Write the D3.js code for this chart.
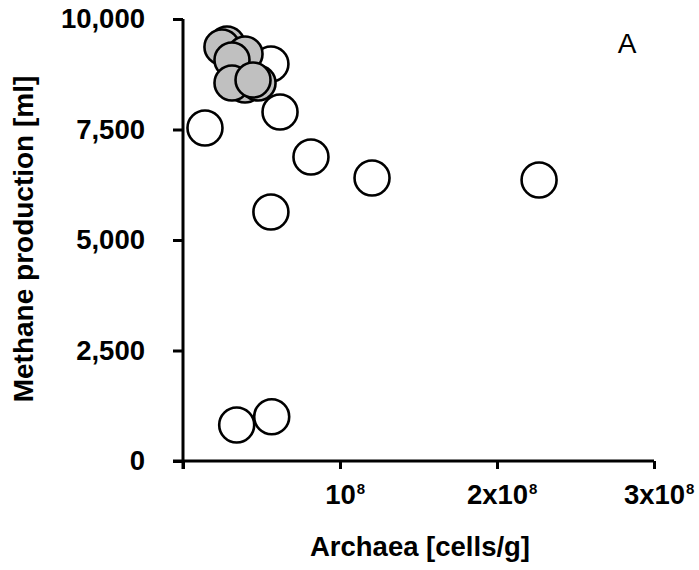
<!DOCTYPE html>
<html lang="en">
    <head>
        <meta charset="utf-8">
        <script src="https://d3js.org/d3.v7.min.js"></script>
        <title>Methane vs Archaea</title>
        <style>
            body { margin: 0; background: #fff; }
            text { font-family: "Liberation Sans", Arial, Helvetica, sans-serif; }
        </style>
    </head>
    <body>
        <div id="plot-div"></div>
        <script>
            const width = 699
            const height = 570

            // open circles (cells/g, ml)
            const openX = [1.4e7, 6.18e7, 8.15e7, 1.204e8, 2.268e8, 5.6e7, 5.6e7, 3.42e7, 5.65e7]
            const openY = [7534, 7896, 6878, 6403, 6357, 5633, 8982, 814, 1002]

            // grey circles, back to front
            const greyX = [2.8e7, 2.48e7, 3.95e7, 3.12e7, 3.95e7, 4.78e7, 3.12e7, 4.46e7]
            const greyY = [9434, 9367, 9208, 9072, 8507, 8552, 8552, 8620]

            const xTicks = [0, 1e8, 2e8, 3e8]
            const xTickBase = ['', '10', '2x10', '3x10']
            const xTickSup = ['', '8', '8', '8']
            const yTicks = [0, 2500, 5000, 7500, 10000]

            let margin = { top: 19, left: 183, right: 45, bottom: 109 }

            let xScale = d3.scaleLinear()
                .domain([0, 3e8])
                .range([margin.left, 654])

            let yScale = d3.scaleLinear()
                .domain([0, 10000])
                .range([height - margin.bottom, margin.top])

            let svg = d3.select('#plot-div')
                .append('svg')
                .attr('width', width)
                .attr('height', height)

            let fs = 27.5

            // x axis
            let xAxis = svg.append('g')
                .attr('transform', `translate(0,${yScale(0)})`)
                .call(d3.axisBottom(xScale).tickValues(xTicks).tickSize(8).tickSizeOuter(0).tickFormat(() => ''))
            xAxis.select('.domain').attr('stroke-width', 3).attr('d', `M${xScale(0) - 10},0H${xScale(3e8)}`)
            xAxis.selectAll('.tick line').attr('stroke-width', 3)
            xAxis.selectAll('.tick text').remove()
            xAxis.selectAll('.tick').each(function (d, i) {
                if (!xTickBase[i]) return
                let g = d3.select(this)
                let t = g.append('text')
                    .attr('y', 43)
                    .attr('fill', '#000')
                    .attr('font-size', fs)
                    .attr('font-weight', 'bold')
                    .attr('text-anchor', 'middle')
                    .text(xTickBase[i])
                let w = t.node().getComputedTextLength()
                g.append('text')
                    .attr('x', w / 2 + 1)
                    .attr('y', 33)
                    .attr('fill', '#000')
                    .attr('font-size', 15)
                    .attr('font-weight', 'bold')
                    .attr('text-anchor', 'start')
                    .text(xTickSup[i])
            })

            // y axis
            let yAxis = svg.append('g')
                .attr('transform', `translate(${xScale(0)},0)`)
                .call(d3.axisLeft(yScale).tickValues(yTicks).tickSize(10).tickSizeOuter(0).tickPadding(28).tickFormat(d3.format(',')))
            yAxis.select('.domain').attr('stroke-width', 3).attr('d', `M0,${yScale(10000)}V${yScale(0) + 8}`)
            yAxis.selectAll('.tick line').attr('stroke-width', 3)
            yAxis.selectAll('.tick text')
                .attr('font-size', fs)
                .attr('font-weight', 'bold')
                .attr('fill', '#000')
                .attr('font-family', null)

            // open points
            svg.append('g')
                .selectAll('circle')
                .data(openX.map((x, i) => ({ x: x, y: openY[i] })))
                .join('circle')
                .attr('cx', d => xScale(d.x))
                .attr('cy', d => yScale(d.y))
                .attr('r', 17.5)
                .attr('fill', '#fff')
                .attr('stroke', '#000')
                .attr('stroke-width', 2.6)

            // grey points
            svg.append('g')
                .selectAll('circle')
                .data(greyX.map((x, i) => ({ x: x, y: greyY[i] })))
                .join('circle')
                .attr('cx', d => xScale(d.x))
                .attr('cy', d => yScale(d.y))
                .attr('r', 17.5)
                .attr('fill', '#c0c0c0')
                .attr('stroke', '#000')
                .attr('stroke-width', 2.6)

            // axis titles
            svg.append('text')
                .attr('x', 420)
                .attr('y', 556)
                .attr('text-anchor', 'middle')
                .attr('font-size', fs)
                .attr('font-weight', 'bold')
                .text('Archaea [cells/g]')

            svg.append('text')
                .attr('transform', `translate(33,239) rotate(-90)`)
                .attr('text-anchor', 'middle')
                .attr('font-size', 28)
                .attr('font-weight', 'bold')
                .text('Methane production [ml]')

            svg.append('text')
                .attr('x', 627)
                .attr('y', 53)
                .attr('text-anchor', 'middle')
                .attr('font-size', 28)
                .text('A')
        </script>
    </body>
</html>
